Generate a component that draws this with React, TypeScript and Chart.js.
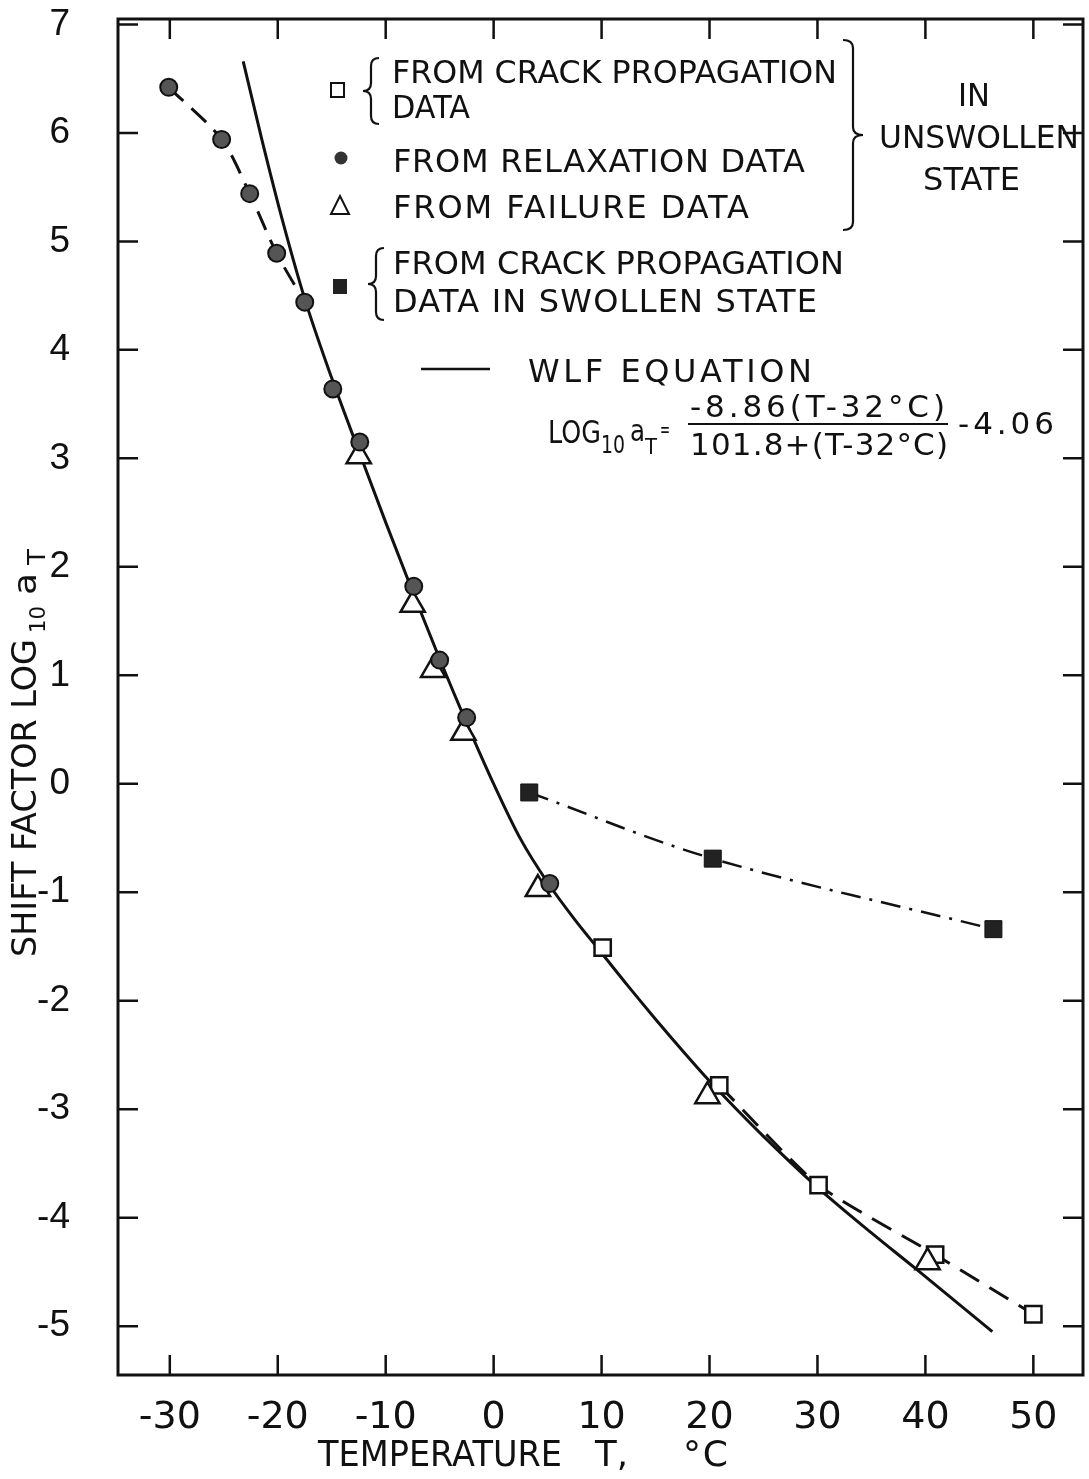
import { useEffect, useRef } from 'react';
import { Chart, registerables } from 'chart.js';

Chart.register(...registerables);

// Axis ticks
const X_TICKS = [-30, -20, -10, 0, 10, 20, 30, 40, 50];
const Y_TICKS = [-5, -4, -3, -2, -1, 0, 1, 2, 3, 4, 5, 6, 7];

// Stress relaxation data (unswollen)
const relaxationT = [-30.1, -25.2, -22.6, -20.1, -17.5, -14.9, -12.4, -7.4, -5.0, -2.5, 5.2];
const relaxationLog = [6.42, 5.94, 5.44, 4.89, 4.44, 3.64, 3.15, 1.82, 1.14, 0.61, -0.92];

// Failure data (unswollen)
const failureT = [-12.5, -7.5, -5.6, -2.8, 4.1, 19.8, 40.2];
const failureLog = [3.02, 1.65, 1.05, 0.47, -0.97, -2.88, -4.41];

// Crack propagation data (unswollen)
const crackT = [10.1, 20.9, 30.1, 40.9, 50.0];
const crackLog = [-1.51, -2.78, -3.70, -4.34, -4.89];

// Crack propagation data in swollen state
const swollenT = [3.3, 20.3, 46.3];
const swollenLog = [-0.08, -0.69, -1.34];

// WLF equation curve
const wlfT = [-23.2, -21.5, -19.5, -17.5, -15.0, -12.5, -10.0, -7.5, -5.0, -2.5, 0, 2.5, 5, 7.5, 10, 12.5, 15, 17.5, 20, 22.5, 25, 30, 35, 39.1, 46.2];
const wlfLog = [6.66, 5.95, 5.17, 4.47, 3.74, 3.07, 2.41, 1.77, 1.15, 0.56, 0.0, -0.51, -0.91, -1.25, -1.56, -1.87, -2.17, -2.46, -2.74, -3.00, -3.25, -3.72, -4.14, -4.47, -5.05];

const FONT = "'DejaVu Sans', 'Liberation Sans', sans-serif";
const NARROW = "'Liberation Sans Narrow', 'Liberation Sans', 'DejaVu Sans', sans-serif";
const INK = '#111';

const pts = (xs: number[], ys: number[]) => xs.map((x, i) => ({ x, y: ys[i] }));

// Draw text filling a given width: extra letter spacing if short, horizontal squeeze if long
function fitText(ctx: CanvasRenderingContext2D, text: string, x: number, y: number, size: number, width: number) {
  ctx.save();
  ctx.font = `${size}px ${FONT}`;
  ctx.textAlign = 'left';
  ctx.textBaseline = 'alphabetic';
  ctx.fillStyle = INK;
  const m = ctx.measureText(text).width;
  if (m < width && text.length > 1) {
    (ctx as any).letterSpacing = `${(width - m) / (text.length - 1)}px`;
    ctx.fillText(text, x, y);
  } else {
    ctx.translate(x, y);
    ctx.scale(width / m, 1);
    ctx.fillText(text, 0, 0);
  }
  ctx.restore();
}

// Curly brace; dir = 1 points right ("}"), dir = -1 points left ("{")
function brace(ctx: CanvasRenderingContext2D, x: number, y0: number, y1: number, w: number, dir: number) {
  const s = w * dir;
  const h = s / 2;
  const mid = (y0 + y1) / 2;
  const r = Math.min(Math.abs(h), 8);
  ctx.save();
  ctx.strokeStyle = INK;
  ctx.lineWidth = 2.2;
  ctx.beginPath();
  ctx.moveTo(x, y0);
  ctx.quadraticCurveTo(x + h, y0, x + h, y0 + r);
  ctx.lineTo(x + h, mid - r);
  ctx.quadraticCurveTo(x + h, mid, x + s, mid);
  ctx.quadraticCurveTo(x + h, mid, x + h, mid + r);
  ctx.lineTo(x + h, y1 - r);
  ctx.quadraticCurveTo(x + h, y1, x, y1);
  ctx.stroke();
  ctx.restore();
}

const framePlugin = {
  id: 'frame',
  beforeDatasetsDraw(chart: any) {
    const { ctx, chartArea: a, scales } = chart;
    ctx.save();
    ctx.strokeStyle = INK;
    ctx.lineWidth = 3;
    ctx.strokeRect(a.left, a.top, a.right - a.left, a.bottom - a.top);
    ctx.lineWidth = 2.5;
    ctx.beginPath();
    X_TICKS.forEach((v) => {
      const px = scales.x.getPixelForValue(v);
      ctx.moveTo(px, a.bottom);
      ctx.lineTo(px, a.bottom - 20);
      ctx.moveTo(px, a.top);
      ctx.lineTo(px, a.top + 20);
    });
    Y_TICKS.forEach((v) => {
      const py = scales.y.getPixelForValue(v);
      ctx.moveTo(a.left, py);
      ctx.lineTo(a.left + 20, py);
      ctx.moveTo(a.right, py);
      ctx.lineTo(a.right - 20, py);
    });
    ctx.stroke();
    ctx.restore();
  },
};

const notesPlugin = {
  id: 'notes',
  afterDraw(chart: any) {
    const ctx: CanvasRenderingContext2D = chart.ctx;
    ctx.save();
    ctx.fillStyle = INK;
    ctx.strokeStyle = INK;

    // legend symbols
    ctx.lineWidth = 2;
    ctx.fillStyle = '#fff';
    ctx.fillRect(331, 83, 13, 14);
    ctx.strokeRect(331, 83, 13, 14);
    ctx.fillStyle = '#333';
    ctx.beginPath();
    ctx.arc(341, 158, 6.5, 0, Math.PI * 2);
    ctx.fill();
    ctx.beginPath();
    ctx.moveTo(340, 196);
    ctx.lineTo(349, 214);
    ctx.lineTo(331, 214);
    ctx.closePath();
    ctx.stroke();
    ctx.fillStyle = '#222';
    ctx.fillRect(333, 279, 14, 15);

    // braces
    brace(ctx, 379, 58, 124, 16, -1);
    brace(ctx, 384, 248, 320, 16, -1);
    brace(ctx, 843, 40, 230, 20, 1);

    // legend texts
    fitText(ctx, 'FROM CRACK PROPAGATION', 392, 83, 32, 445);
    fitText(ctx, 'DATA', 392, 118, 32, 78);
    fitText(ctx, 'FROM RELAXATION DATA', 393, 172, 32, 412);
    fitText(ctx, 'FROM FAILURE DATA', 393, 218, 32, 356);
    fitText(ctx, 'IN', 958, 106, 32, 32);
    fitText(ctx, 'UNSWOLLEN', 879, 148, 32, 200);
    fitText(ctx, 'STATE', 923, 190, 32, 97);
    fitText(ctx, 'FROM CRACK PROPAGATION', 393, 274, 32, 451);
    fitText(ctx, 'DATA IN SWOLLEN STATE', 393, 312, 32, 424);

    // WLF equation legend
    ctx.lineWidth = 2.5;
    ctx.beginPath();
    ctx.moveTo(421, 369);
    ctx.lineTo(490, 369);
    ctx.stroke();
    fitText(ctx, 'WLF EQUATION', 528, 382, 32, 284);
    fitText(ctx, 'LOG', 548, 443, 32, 53);
    fitText(ctx, '10', 601, 453, 24, 24);
    fitText(ctx, 'a', 630, 441, 30, 15);
    fitText(ctx, 'T', 645, 454, 22, 12);
    fitText(ctx, '=', 660, 437, 22, 10);
    fitText(ctx, '-8.86(T-32°C)', 690, 417, 31, 255);
    ctx.lineWidth = 2;
    ctx.beginPath();
    ctx.moveTo(688, 424);
    ctx.lineTo(948, 424);
    ctx.stroke();
    fitText(ctx, '101.8+(T-32°C)', 690, 455, 31, 258);
    fitText(ctx, '-4.06', 958, 434, 31, 96);

    // x-axis title
    fitText(ctx, 'TEMPERATURE', 318, 1466, 36, 244);
    fitText(ctx, 'T,', 595, 1466, 36, 33);
    fitText(ctx, '°C', 683, 1466, 36, 45);

    // y-axis title (rotated)
    ctx.save();
    ctx.translate(36, 957);
    ctx.rotate(-Math.PI / 2);
    fitText(ctx, 'SHIFT FACTOR LOG', 0, 0, 34, 318);
    fitText(ctx, '10', 324, 9, 22, 27);
    fitText(ctx, 'a', 362, 0, 32, 22);
    fitText(ctx, 'T', 392, 9, 24, 16);
    ctx.restore();

    ctx.restore();
  },
};

export default function App() {
  const ref = useRef<HTMLCanvasElement>(null);

  useEffect(() => {
    if (!ref.current) return;
    const zeroPad = (s: any) => {
      s.paddingTop = 0;
      s.paddingBottom = 0;
      s.paddingLeft = 0;
      s.paddingRight = 0;
    };
    const chart = new Chart(ref.current, {
      type: 'scatter',
      data: {
        datasets: [
          {
            label: 'relaxation',
            data: pts(relaxationT, relaxationLog),
            showLine: false,
            pointStyle: 'circle',
            pointRadius: 8.5,
            pointBackgroundColor: '#555',
            pointBorderColor: INK,
            pointBorderWidth: 2,
            order: 0,
          },
          {
            label: 'failure',
            data: pts(failureT, failureLog),
            showLine: false,
            pointStyle: 'triangle',
            pointRadius: 14,
            pointBackgroundColor: '#fff',
            pointBorderColor: INK,
            pointBorderWidth: 2.5,
            order: 1,
          },
          {
            label: 'crack',
            data: pts(crackT, crackLog),
            showLine: false,
            pointStyle: 'rect',
            pointRadius: 11.5,
            pointBackgroundColor: '#fff',
            pointBorderColor: INK,
            pointBorderWidth: 2.5,
            order: 2,
          },
          {
            label: 'swollen',
            data: pts(swollenT, swollenLog),
            showLine: true,
            borderColor: INK,
            borderWidth: 2.5,
            borderDash: [20, 9, 3, 9],
            tension: 0.35,
            pointStyle: 'rect',
            pointRadius: 12,
            pointBackgroundColor: '#222',
            pointBorderColor: INK,
            pointBorderWidth: 1,
            order: 3,
          },
          {
            label: 'relaxation trend',
            data: pts(relaxationT.slice(0, 5), relaxationLog.slice(0, 5)),
            showLine: true,
            borderColor: INK,
            borderWidth: 3,
            borderDash: [20, 11],
            tension: 0.3,
            pointRadius: 0,
            order: 5,
          },
          {
            label: 'crack trend',
            data: pts(crackT.slice(1), crackLog.slice(1)),
            showLine: true,
            borderColor: INK,
            borderWidth: 3,
            borderDash: [22, 12],
            tension: 0.2,
            pointRadius: 0,
            order: 6,
          },
          {
            label: 'WLF equation',
            data: pts(wlfT, wlfLog),
            showLine: true,
            borderColor: INK,
            borderWidth: 3,
            cubicInterpolationMode: 'monotone',
            pointRadius: 0,
            order: 7,
          },
        ],
      },
      options: {
        animation: false,
        responsive: false,
        maintainAspectRatio: false,
        layout: { autoPadding: false, padding: { left: 8, top: 19, right: 6, bottom: 0 } },
        plugins: { legend: { display: false }, tooltip: { enabled: false } },
        scales: {
          x: {
            type: 'linear',
            min: -34.8,
            max: 54.6,
            afterBuildTicks: (s: any) => {
              s.ticks = X_TICKS.map((value) => ({ value }));
            },
            afterFit: (s: any) => {
              s.height = 104;
              zeroPad(s);
            },
            grid: { display: false, drawTicks: true, tickLength: 24 },
            border: { display: false },
            ticks: { font: { family: FONT, size: 38, lineHeight: 1 }, color: INK, padding: 0, maxRotation: 0, autoSkip: false },
          },
          y: {
            type: 'linear',
            min: -5.45,
            max: 7.05,
            afterBuildTicks: (s: any) => {
              s.ticks = Y_TICKS.map((value) => ({ value }));
            },
            afterFit: (s: any) => {
              s.width = 110;
              zeroPad(s);
            },
            grid: { display: false, drawTicks: true, tickLength: 48 },
            border: { display: false },
            ticks: { font: { family: NARROW, size: 37, lineHeight: 1 }, color: INK, padding: 0, autoSkip: false },
          },
        },
      },
      plugins: [framePlugin, notesPlugin],
    } as any);
    return () => chart.destroy();
  }, []);

  return (
    <div style={{ position: 'absolute', left: 0, top: 0, width: 1089, height: 1479, background: '#fff' }}>
      <canvas ref={ref} width={1089} height={1479} style={{ display: 'block' }} />
    </div>
  );
}
